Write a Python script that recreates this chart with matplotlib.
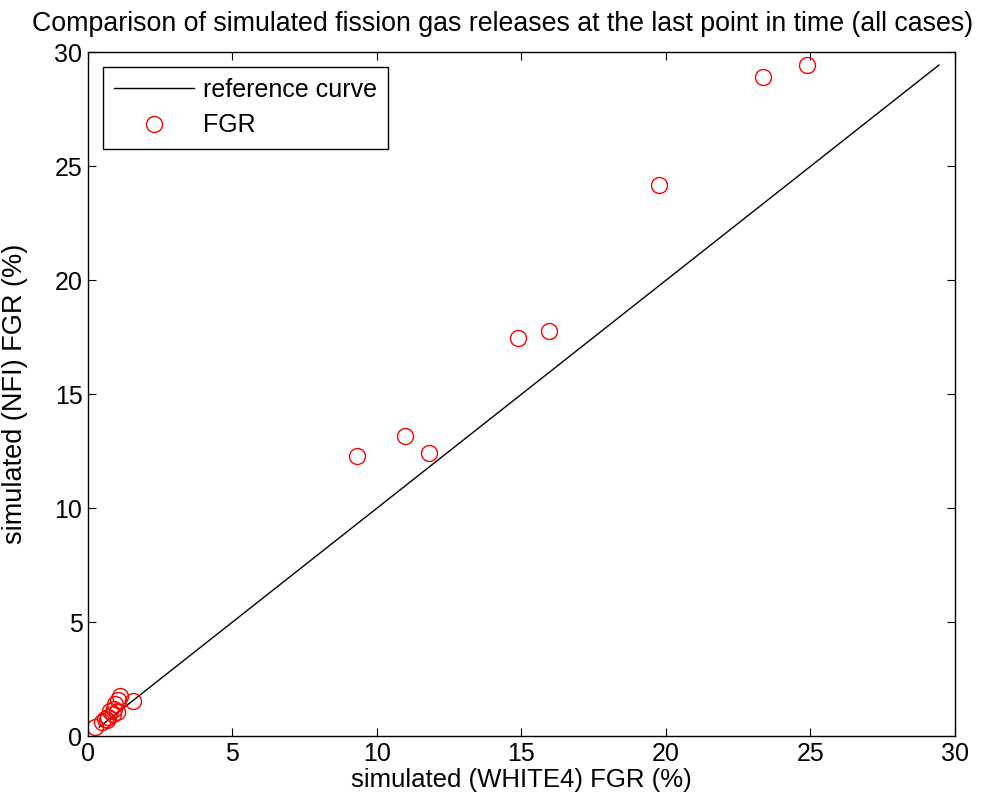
import matplotlib
matplotlib.use("Agg")
import matplotlib.pyplot as plt
import numpy as np

plt.rcParams['font.family'] = ['Liberation Sans', 'DejaVu Sans']

# FGR values (%)
fgr_white4 = [0.24, 0.5, 0.6, 0.65, 0.7, 0.75, 0.85, 0.9, 0.95, 1.0, 1.05, 1.1, 1.56,
              9.31, 10.97, 11.8, 14.88, 15.95, 19.76, 23.37, 24.87]
fgr_nfi = [0.39, 0.6, 0.75, 0.7, 0.85, 1.1, 0.95, 1.2, 1.4, 1.05, 1.6, 1.75, 1.53,
           12.28, 13.16, 12.41, 17.46, 17.76, 24.17, 28.92, 29.45]
reference = sorted(fgr_nfi)

title = "Comparison of simulated fission gas releases at the last point in time (all cases)"
xlabel = "simulated (WHITE4) FGR (%)"
ylabel = "simulated (NFI) FGR (%)"
ticks = [0, 5, 10, 15, 20, 25, 30]

fig = plt.figure(figsize=(9.84, 8.05), dpi=100)
ax = fig.add_axes([0.0894, 0.0857, 0.881, 0.8491])

ax.plot(reference, reference, color='black', lw=1.0, label='reference curve')
ax.plot(fgr_white4, fgr_nfi, linestyle='none', marker='o', markersize=11.5,
        markerfacecolor='none', markeredgecolor='red', markeredgewidth=1.0, label='FGR')

ax.set_xlim(0, 30)
ax.set_ylim(0, 30)
ax.set_xticks(ticks)
ax.set_yticks(ticks)
ax.tick_params(direction='in', labelsize=18, length=6, pad=4, top=True, right=True)
for s in ax.spines.values():
    s.set_linewidth(1.0)

fig.text(503 / 984, 1 - 31 / 805, title, fontsize=19.3, ha='center', va='baseline')
ax.set_xlabel(xlabel, fontsize=18.5, labelpad=2)
ax.set_ylabel(ylabel, fontsize=19.5, labelpad=19)

leg = ax.legend(loc='upper left', fontsize=18, fancybox=False, edgecolor='black',
                framealpha=1, borderpad=0.45, handlelength=3.2, handletextpad=0.35,
                labelspacing=0.45, borderaxespad=0,
                bbox_to_anchor=(0.0173, 0.979))
leg.get_frame().set_linewidth(1.0)

fig.savefig('out.png', dpi=100)
